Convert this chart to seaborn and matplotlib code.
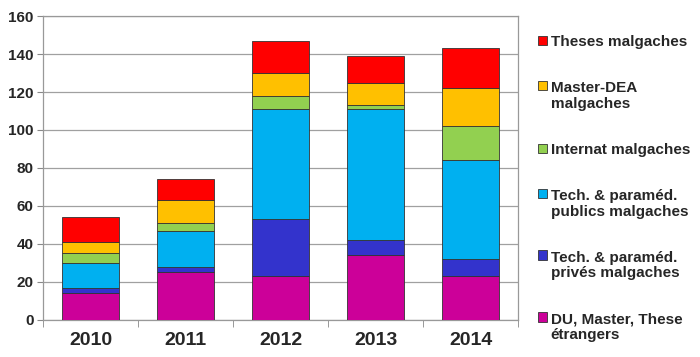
import numpy as np
import pandas as pd
import matplotlib
matplotlib.use("Agg")
import matplotlib.pyplot as plt
import seaborn as sns

# data, bottom series first
years = ['2010', '2011', '2012', '2013', '2014']
series = ['DU, Master, These\nétrangers',
          'Tech. & paraméd.\nprivés malgaches',
          'Tech. & paraméd.\npublics malgaches',
          'Internat malgaches',
          'Master-DEA\nmalgaches',
          'Theses malgaches']
du_etrangers = [14, 25, 23, 34, 23]
prives = [3, 3, 30, 8, 9]
publics = [13, 19, 58, 69, 52]
internat = [5, 4, 7, 2, 18]
master_dea = [6, 12, 12, 12, 20]
theses = [13, 11, 17, 14, 21]
colors = ['#CC0099', '#3333CC', '#00B0F0', '#92D050', '#FFC000', '#FF0000']

values = [du_etrangers, prives, publics, internat, master_dea, theses]

sns.set_style("white")
plt.rcParams['font.family'] = ['Liberation Sans', 'DejaVu Sans']

fig = plt.figure(figsize=(7, 3.57), dpi=100)
ax = fig.add_axes([0.062, 0.104, 0.678, 0.851])

bottom = np.zeros(len(years))
for name, vals, c in zip(series, values, colors):
    sns.barplot(x=years, y=vals, order=years, color=c, width=0.6,
                bottom=bottom, errorbar=None, edgecolor='#333333',
                linewidth=0.6, saturation=1, ax=ax, label=name, zorder=3)
    bottom = bottom + np.array(vals)

ax.set_ylim(0, 160)
ax.set_xlim(-0.5, 4.5)
ax.set_yticks(range(0, 161, 20))
ax.yaxis.grid(True, color='#a0a0a0', linewidth=0.9, zorder=0)
ax.set_axisbelow(True)
ax.set_xticks(np.arange(-0.5, 5, 1), minor=True)
ax.tick_params(axis='x', which='major', length=0, pad=9, labelsize=14)
ax.tick_params(axis='x', which='minor', length=5, color='#888888', direction='out', bottom=True)
ax.tick_params(axis='y', length=4, color='#888888', left=True, labelsize=11, pad=3)
for lab in ax.get_xticklabels() + ax.get_yticklabels():
    lab.set_fontweight('bold')
for sp in ax.spines.values():
    sp.set_color('#999999')
    sp.set_linewidth(0.9)
ax.set_xlabel('')
ax.set_ylabel('')

h, l = ax.get_legend_handles_labels()
leg = ax.legend(h[::-1], l[::-1], loc='center left', bbox_to_anchor=(0.757, 0.472),
                bbox_transform=fig.transFigure, frameon=False,
                prop={'weight': 'bold', 'size': 11}, handlelength=0.6, handleheight=0.6,
                handletextpad=0.25, labelspacing=2.1, borderpad=0)
for txt, patch in zip(leg.get_texts(), leg.legend_handles):
    txt.set_linespacing(1.15)
    if '\n' in txt.get_text():
        # keep the square level with the first line, like the original
        patch.set_y(patch.get_y() + 7.5)

fig.savefig('out.png', dpi=100)
